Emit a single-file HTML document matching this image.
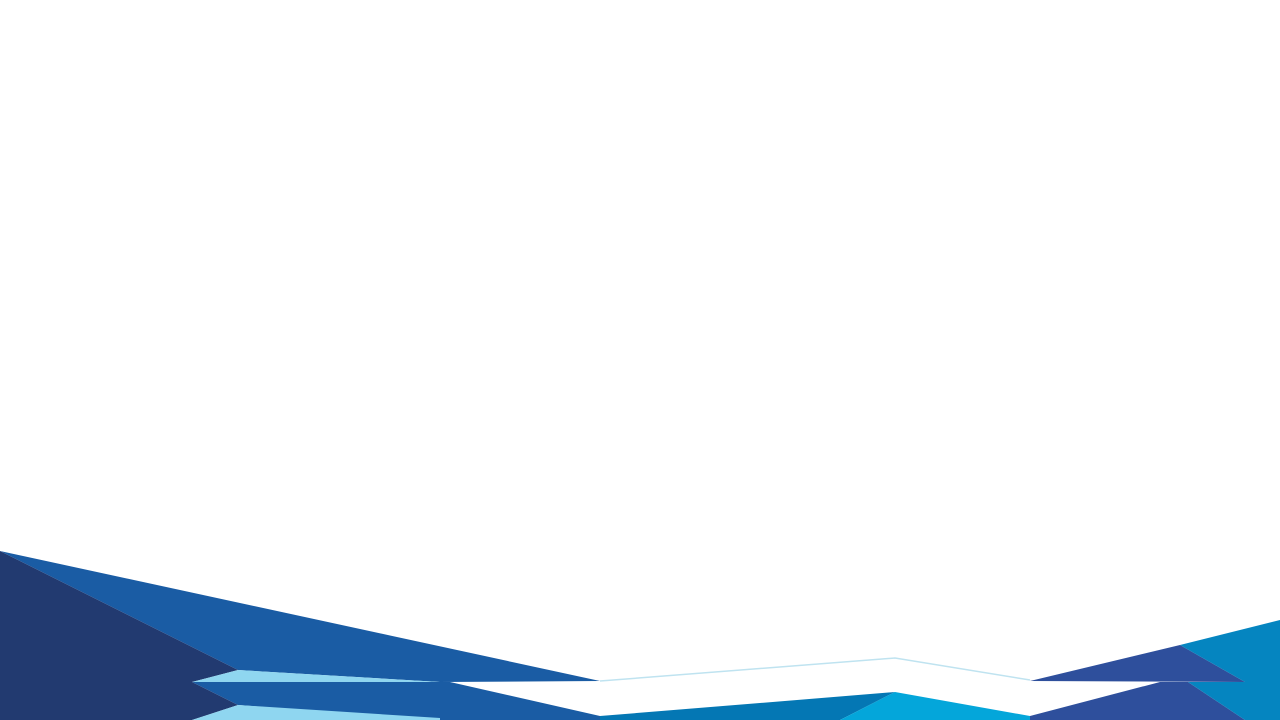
<!DOCTYPE html>
<html><head><meta charset="utf-8"><style>
html,body{margin:0;padding:0;background:#fff;width:1280px;height:720px;overflow:hidden}
svg{display:block}
</style></head><body>
<svg width="1280" height="720" viewBox="0 0 1280 720">
<rect width="1280" height="720" fill="#fff"/>
<g>
<polygon points="0,551 600,681 440,682 238,670" fill="#1a5ca4"/>
<polygon points="0,551 238,670 192,682 0,682" fill="#223a70"/>
<polygon points="238,670 440,682 192,682" fill="#8fd6f0"/>
<polyline points="600,681 895,658 1030,680" fill="none" stroke="#bfe3f0" stroke-width="1.5"/>
<polygon points="1030,681 1180,645 1245,682" fill="#2e4f9c"/>
<polygon points="1180,645 1280,620 1280,682 1245,682" fill="#0585c0"/>
</g>
<g>
<polygon points="192,682 450,682 600,716 600,720 440,720 238,705" fill="#1a5ca4"/>
<polygon points="0,682 192,682 238,705 192,720 0,720" fill="#223a70"/>
<polygon points="238,705 440,718 440,720 192,720" fill="#8fd6f0"/>
<polygon points="600,716 895,692 840,720 600,720" fill="#0477b4"/>
<polygon points="895,692 1030,716 1030,720 840,720" fill="#04a6da"/>
<polygon points="1030,716 1160,682 1188,682 1245,720 1030,720" fill="#2e4f9c"/>
<polygon points="1188,682 1280,682 1280,720 1245,720" fill="#0585c0"/>
</g>
</svg>
</body></html>
